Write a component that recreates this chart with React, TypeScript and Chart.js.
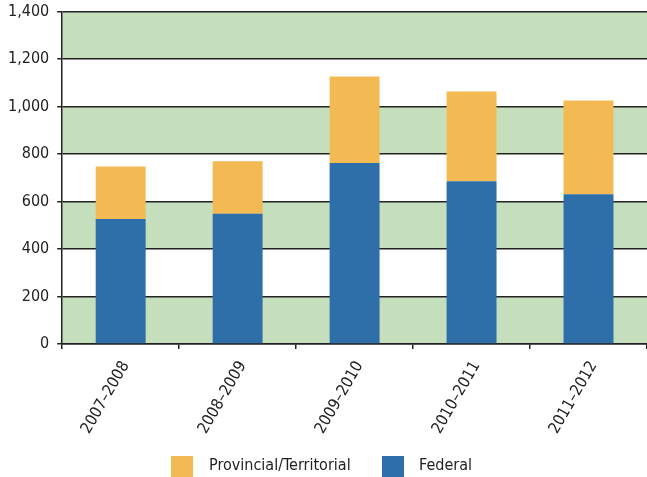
import React, { useEffect, useRef } from "react";
import { Chart, registerables } from "chart.js";

Chart.register(...registerables);

const categories = ["2007–2008", "2008–2009", "2009–2010", "2010–2011", "2011–2012"];
const federal = [527, 549, 762, 685, 631];
const provincial = [221, 221, 365, 378, 395];
const yTicks = [0, 200, 400, 600, 800, 1000, 1200, 1400];
const seriesNames = ["Federal", "Provincial/Territorial"];
const seriesColors = ["#2e6ea9", "#f3b953"];

const FONT = "'Liberation Sans Narrow', 'DejaVu Sans Condensed', 'Arial Narrow', Arial, sans-serif";

const bandsPlugin = {
  id: "bands",
  beforeDraw(chart: any) {
    const { ctx, chartArea, scales } = chart;
    const y = scales.y;
    ctx.save();
    for (let i = 0; i < yTicks.length - 1; i++) {
      if (i % 2 !== 0) continue;
      const top = y.getPixelForValue(yTicks[i + 1]);
      const bottom = y.getPixelForValue(yTicks[i]);
      ctx.fillStyle = "#c5dfbc";
      ctx.fillRect(chartArea.left, top, chartArea.right - chartArea.left, bottom - top);
    }
    ctx.restore();
  },
};

export default function App() {
  const ref = useRef<HTMLCanvasElement>(null);
  useEffect(() => {
    if (!ref.current) return;
    const chart = new Chart(ref.current, {
      type: "bar",
      data: {
        labels: categories,
        datasets: [
          { label: seriesNames[0], data: federal, backgroundColor: seriesColors[0], borderWidth: 0 },
          { label: seriesNames[1], data: provincial, backgroundColor: seriesColors[1], borderWidth: 0 },
        ],
      },
      options: {
        animation: false,
        responsive: false,
        devicePixelRatio: 1,
        layout: { padding: { top: 2, right: 0, left: 0, bottom: 33 } },
        datasets: { bar: { categoryPercentage: 1, barPercentage: 0.427 } },
        scales: {
          x: {
            stacked: true,
            afterFit(axis: any) {
              axis.height = 100;
            },
            grid: { offset: true, drawOnChartArea: false, drawTicks: true, tickLength: 5, color: "#222", lineWidth: 1.5 },
            border: { display: true, color: "#222", width: 1.5 },
            ticks: {
              color: "#222",
              font: { family: FONT, size: 16 },
              minRotation: 60,
              maxRotation: 60,
              padding: 9,
              labelOffset: 5,
            },
          },
          y: {
            stacked: true,
            min: 0,
            max: 1400,
            afterBuildTicks(axis: any) {
              axis.ticks = yTicks.map((v) => ({ value: v }));
            },
            grid: { color: "#222", lineWidth: 1.5, tickLength: 5 },
            border: { display: true, color: "#222", width: 1.5 },
            ticks: {
              color: "#222",
              font: { family: FONT, size: 16 },
              padding: 8,
              callback: (v: any) => Number(v).toLocaleString("en-US"),
            },
          },
        },
        plugins: {
          legend: { display: false },
          tooltip: { enabled: false },
        },
      },
      plugins: [bandsPlugin],
    });
    return () => chart.destroy();
  }, []);

  const legendItem = (i: number, left: number, gap: number) => (
    <div
      key={i}
      style={{
        position: "absolute",
        left,
        top: 456,
        height: 21,
        display: "flex",
        alignItems: "center",
        fontFamily: FONT,
        fontSize: 16,
        color: "#222",
        whiteSpace: "nowrap",
      }}
    >
      <span style={{ display: "inline-block", width: 22, height: 21, background: seriesColors[i], marginRight: gap }} />
      <span style={{ position: "relative", top: -2 }}>{seriesNames[i]}</span>
    </div>
  );

  return (
    <div style={{ position: "fixed", left: 0, top: 0, width: 647, height: 477, background: "#fff", overflow: "hidden" }}>
      <canvas
        ref={ref}
        width={647}
        height={483}
        style={{ position: "absolute", left: 0, top: -6, width: 647, height: 483 }}
      />
      {legendItem(1, 171, 16)}
      {legendItem(0, 382, 15)}
    </div>
  );
}
